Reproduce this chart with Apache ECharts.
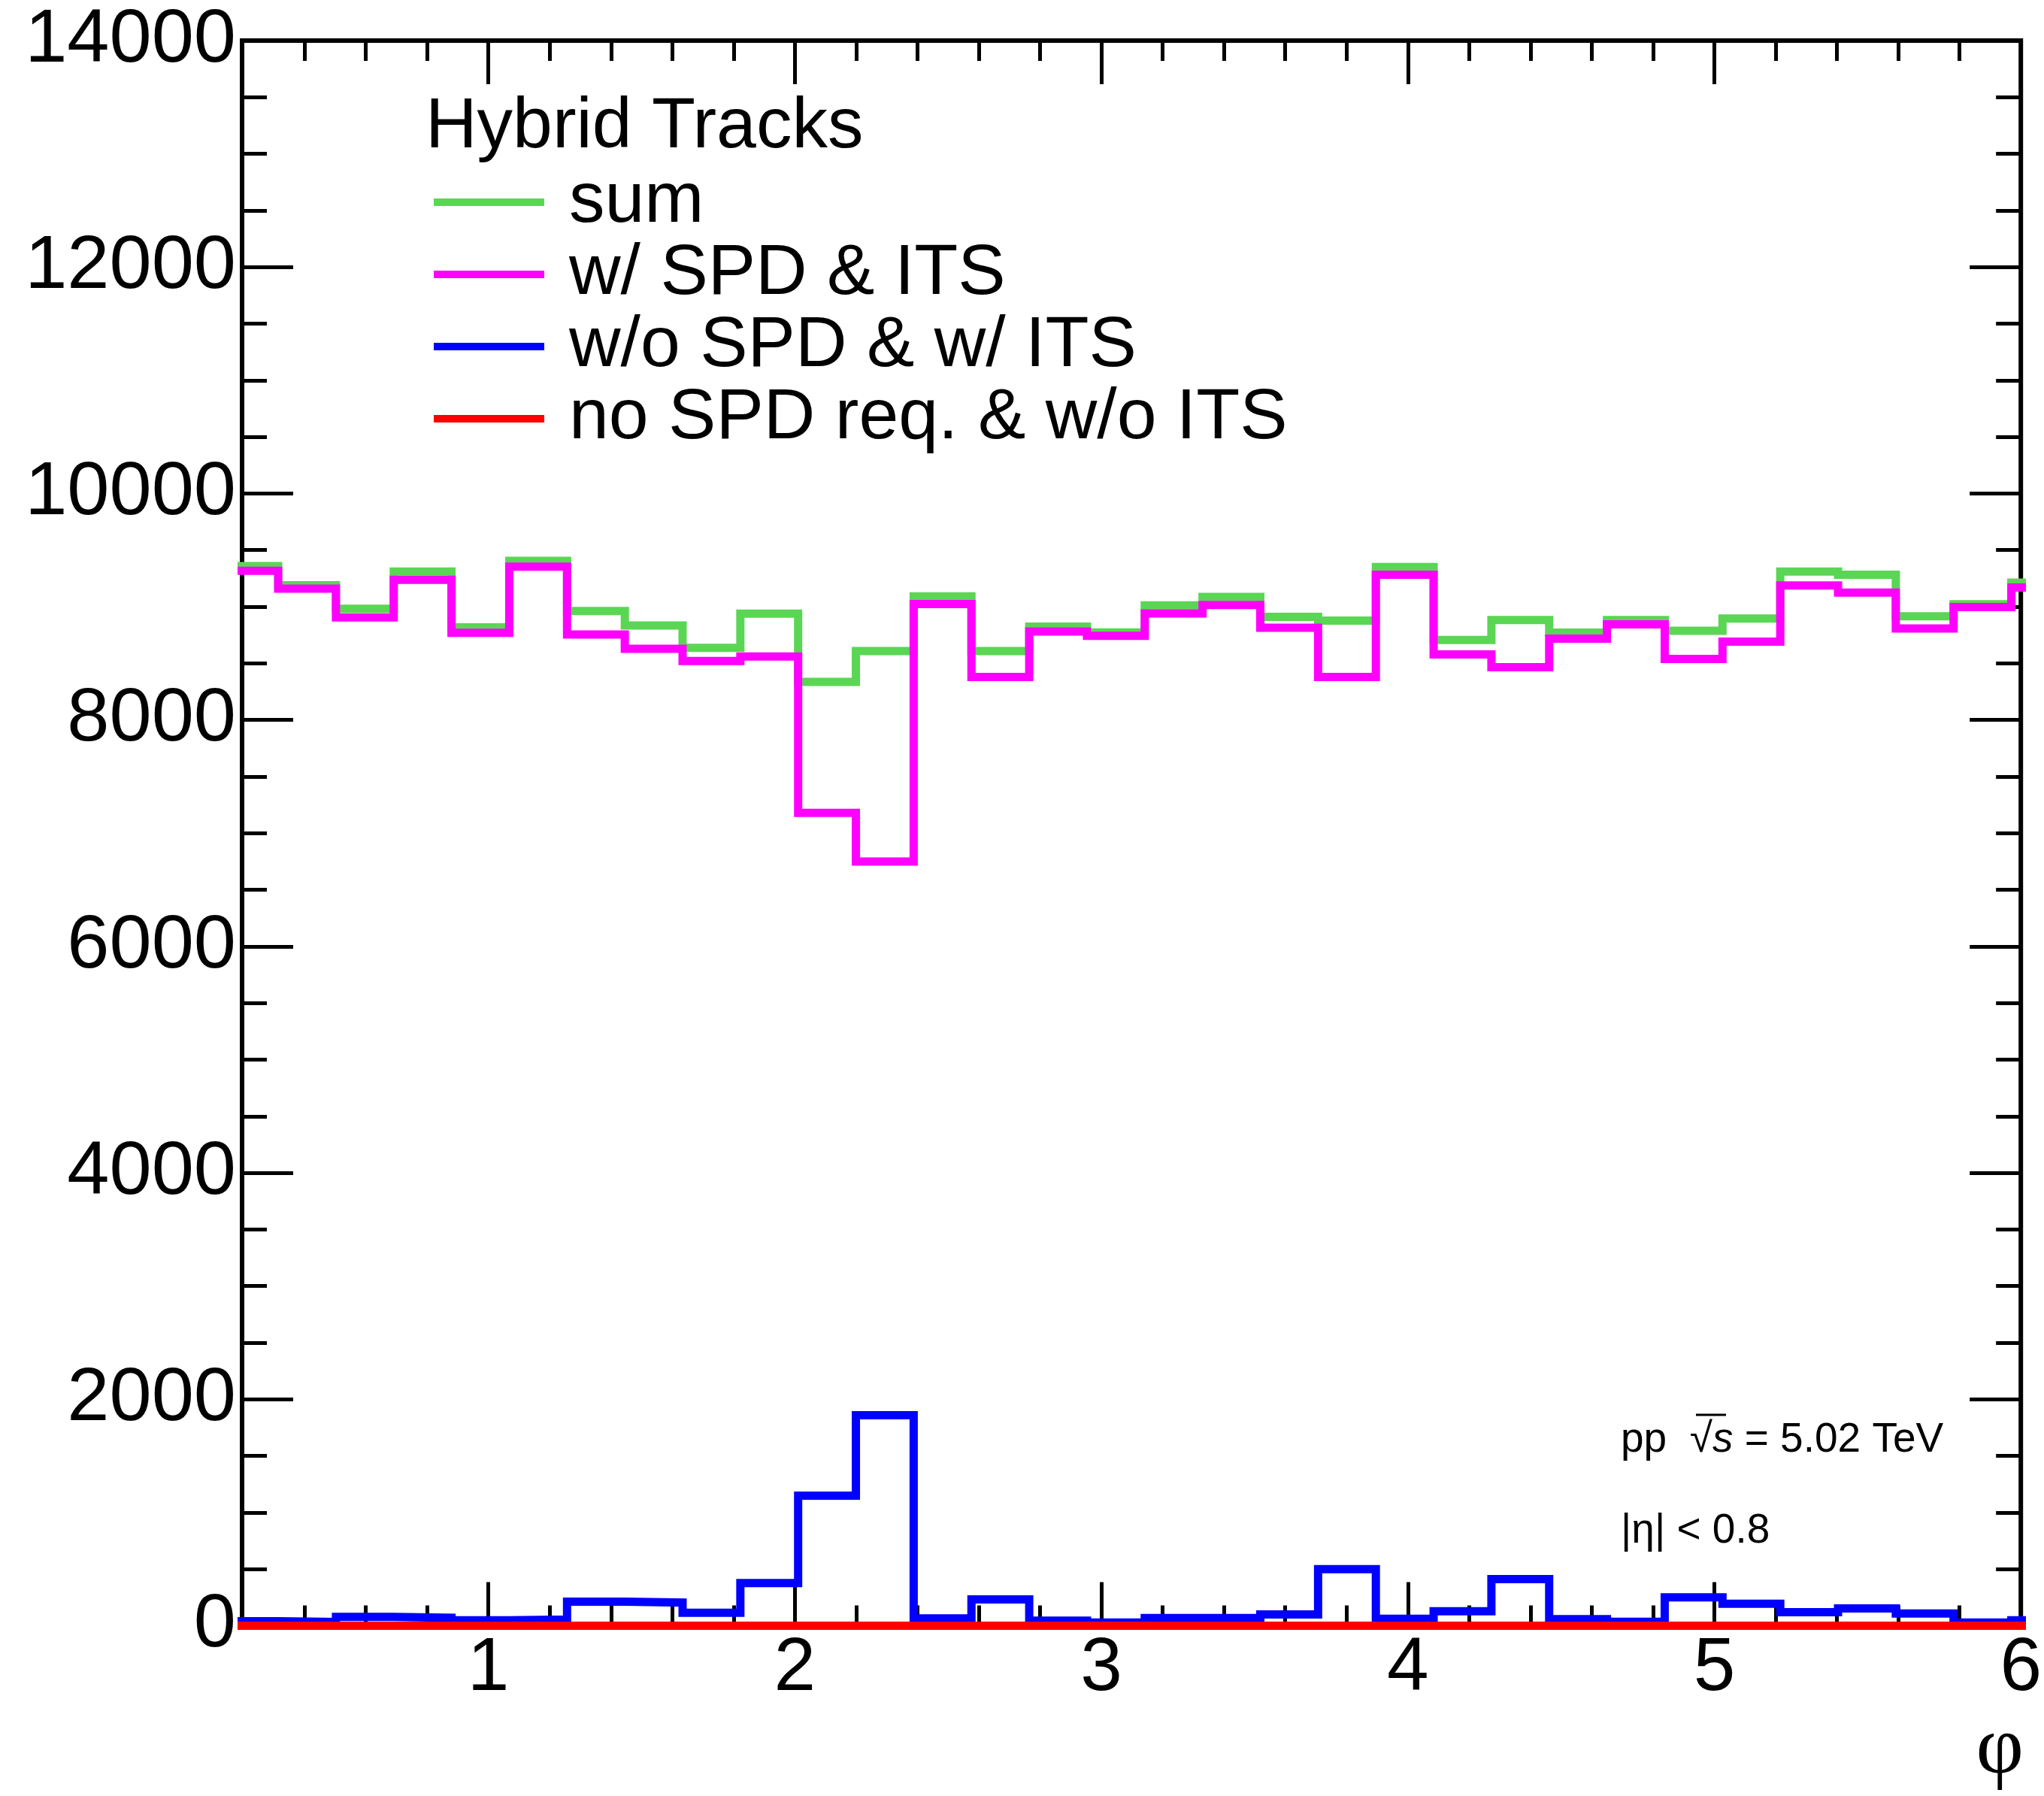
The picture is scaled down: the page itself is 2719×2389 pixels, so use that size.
<!DOCTYPE html>
<html>
<head>
<meta charset="utf-8">
<script src="https://cdn.jsdelivr.net/npm/echarts@6/dist/echarts.min.js"></script>
<style>
html,body{margin:0;padding:0;background:#ffffff;}
#chart{width:2719px;height:2389px;}
</style>
</head>
<body>
<div id="chart"></div>
<script>
// Bin edges in phi (33 edges -> 32 bins)
const binEdges = [0.12566, 0.31416, 0.50265, 0.69115, 0.87965, 1.06814, 1.25664, 1.44513,
  1.63363, 1.82212, 2.01062, 2.19911, 2.38761, 2.57611, 2.76460, 2.95310, 3.14159,
  3.33009, 3.51858, 3.70708, 3.89557, 4.08407, 4.27257, 4.46106, 4.64956, 4.83805,
  5.02655, 5.21504, 5.40354, 5.59203, 5.78053, 5.96903, 6.15752];

const sumCounts = [9358, 9190, 8982, 9310, 8817, 9406, 8962, 8835, 8637, 8939, 8336, 8609,
  9092, 8609, 8824, 8773, 9012, 9086, 8911, 8878, 9350, 8706, 8883, 8771,
  8883, 8787, 8896, 9310, 9282, 8916, 9021, 9213];

const spdItsCounts = [9317, 9160, 8906, 9238, 8769, 9353, 8754, 8629, 8521, 8560, 7180, 6750,
  9023, 8380, 8781, 8743, 8941, 9015, 8814, 8380, 9282, 8578, 8466, 8718,
  8844, 8539, 8692, 9188, 9124, 8807, 8997, 9170];

const noSpdItsCounts = [40, 33, 78, 70, 48, 55, 212, 205, 115, 377, 1148, 1859,
  65, 232, 45, 28, 68, 68, 100, 500, 62, 128, 412, 58,
  35, 250, 195, 120, 153, 108, 28, 48];

const noSpdNoItsCounts = [0, 0, 0, 0, 0, 0, 0, 0, 0, 0, 0, 0,
  0, 0, 0, 0, 0, 0, 0, 0, 0, 0, 0, 0,
  0, 0, 0, 0, 0, 0, 0, 0];

const seriesNames = ['sum', 'w/ SPD & ITS', 'w/o SPD & w/ ITS', 'no SPD req. & w/o ITS'];
const seriesColors = ['#5ad654', '#ff00ff', '#0000ff', '#ff0000'];

const xMin = 0.1963, xMax = 6;
const xMajorTicks = [1, 2, 3, 4, 5, 6];
const xMinorTicks = [0.4, 0.6, 0.8, 1.2, 1.4, 1.6, 1.8, 2.2, 2.4, 2.6, 2.8, 3.2, 3.4, 3.6, 3.8,
  4.2, 4.4, 4.6, 4.8, 5.2, 5.4, 5.6, 5.8];
const yMin = 0, yMax = 14000, yInterval = 2000;

function stepData(values) {
  const d = values.map((v, i) => [binEdges[i], v]);
  d.push([binEdges[values.length], values[values.length - 1]]);
  return d;
}

const FONT = 'Liberation Sans';
const chart = echarts.init(document.getElementById('chart'), null, {renderer: 'canvas'});

function xAx(pos, ticks, len, labels) {
  return {
    type: 'value', position: pos, min: xMin, max: xMax,
    axisLine: {show: false, onZero: false},
    splitLine: {show: false},
    axisTick: {show: true, inside: true, length: len, customValues: ticks,
      lineStyle: {color: '#000', width: 5}},
    axisLabel: labels ? {show: true, customValues: xMajorTicks, fontFamily: FONT, fontSize: 100,
      color: '#000', margin: 8, formatter: v => String(v)} : {show: false}
  };
}
function yAx(pos, labels) {
  return {
    type: 'value', position: pos, min: yMin, max: yMax, interval: yInterval,
    axisLine: {show: false},
    splitLine: {show: false},
    axisTick: {show: true, inside: true, length: 68, lineStyle: {color: '#000', width: 5}},
    minorTick: {show: true, splitNumber: 4, length: 33, lineStyle: {color: '#000', width: 5}},
    axisLabel: labels ? {show: true, fontFamily: FONT, fontSize: 101, color: '#000', margin: 8,
      formatter: v => String(v)} : {show: false}
  };
}

const dataSets = [sumCounts, spdItsCounts, noSpdItsCounts, noSpdNoItsCounts];

const option = {
  animation: false,
  backgroundColor: '#ffffff',
  grid: {left: 322, right: 25, top: 54, bottom: 226.5, show: true,
    borderColor: '#000', borderWidth: 6, backgroundColor: 'transparent'},
  xAxis: [
    xAx('bottom', xMajorTicks, 58, true),
    xAx('bottom', xMinorTicks, 27, false),
    xAx('top', xMajorTicks, 58, false),
    xAx('top', xMinorTicks, 27, false)
  ],
  yAxis: [yAx('left', true), yAx('right', false)],
  legend: {
    orient: 'vertical', left: 577, top: 204, padding: 0, itemGap: -34,
    icon: 'rect', itemWidth: 147, itemHeight: 10, selectedMode: false,
    textStyle: {fontFamily: FONT, fontSize: 95, color: '#000', lineHeight: 96, padding: [0, 0, 34, 28]},
    data: seriesNames
  },
  series: dataSets.map((vals, i) => ({
    name: seriesNames[i], type: 'line', step: 'end', symbol: 'none',
    xAxisIndex: 0, yAxisIndex: 0, clip: true,
    data: stepData(vals),
    color: seriesColors[i],
    lineStyle: {color: seriesColors[i], width: 11, join: 'miter', cap: 'butt'},
    emphasis: {disabled: true}, silent: true
  })),
  graphic: [
    {type: 'text', left: 566, top: 122, style: {text: 'Hybrid Tracks', fontFamily: FONT, fontSize: 95, fill: '#000'}},
    {type: 'text', x: 2156, y: 1916, style: {
      text: '{n|pp  \u221A}{i|s}{n| = 5.02 TeV}', verticalAlign: 'middle', align: 'left',
      rich: {n: {fontFamily: FONT, fontSize: 55, fill: '#000'}, i: {fontFamily: FONT, fontSize: 55, fontStyle: 'italic', fill: '#000'}}}},
    {type: 'line', shape: {x1: 2256, y1: 1882, x2: 2296, y2: 1882}, style: {stroke: '#000', lineWidth: 3}},
    {type: 'text', x: 2156, y: 2037, style: {text: '|\u03B7| < 0.8', fontFamily: FONT, fontSize: 55, fill: '#000',
      verticalAlign: 'middle', align: 'left'}},
    {type: 'text', x: 2692, y: 2329, style: {text: '\u03C6', fontFamily: 'Liberation Serif', fontSize: 110, fill: '#000',
      verticalAlign: 'middle', align: 'right'}}
  ]
};
chart.setOption(option);
</script>
</body>
</html>
